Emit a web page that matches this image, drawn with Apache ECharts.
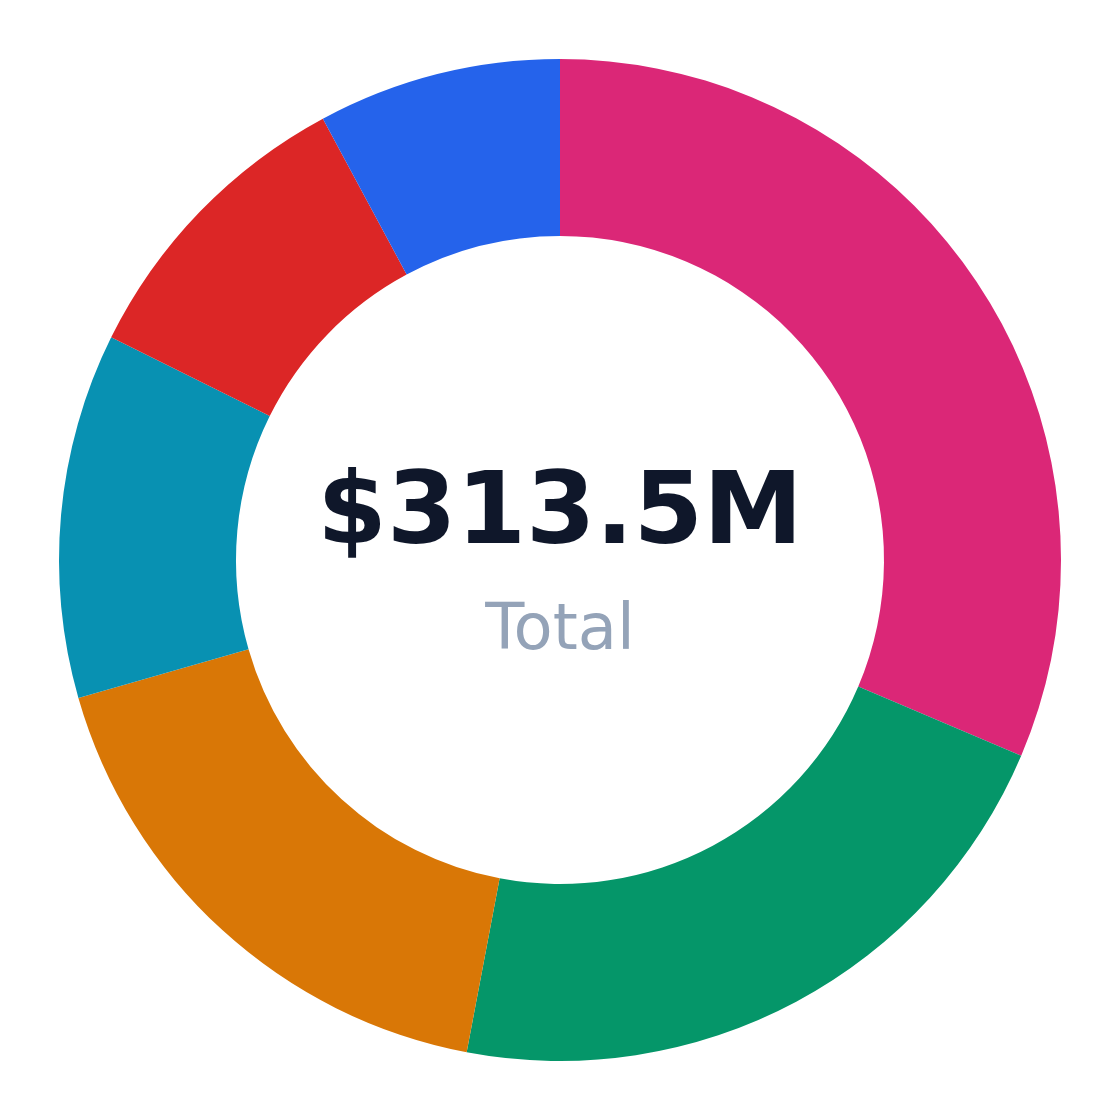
<!DOCTYPE html>
<html>
<head>
<meta charset="utf-8">
<script src="https://cdn.jsdelivr.net/npm/echarts@6/dist/echarts.min.js"></script>
<style>
  html, body { margin: 0; padding: 0; background: #fff; }
  #cht { width: 1120px; height: 1120px; }
</style>
</head>
<body>
<div id="cht"></div>
<script>
// segment values in $M, clockwise from 12 o'clock
var names = ['Segment A', 'Segment B', 'Segment C', 'Segment D', 'Segment E', 'Segment F'];
var values = [98.4, 67.7, 55.1, 36.9, 30.8, 24.6];
var colors = ['#db2777', '#059669', '#d97706', '#0891b2', '#dc2626', '#2563eb'];
var totalLabel = '$313.5M';
var subLabel = 'Total';

var pieData = names.map(function (n, i) {
    return { name: n, value: values[i], itemStyle: { color: colors[i] } };
});

var config = {
    animation: false,
    tooltip: { show: false },
    graphic: [
        {
            type: 'text',
            left: 'center',
            top: 467,
            style: {
                text: totalLabel,
                fill: '#0f172a',
                font: 'bold 100px "DejaVu Sans", sans-serif'
            }
        },
        {
            type: 'text',
            left: 'center',
            top: 600,
            style: {
                text: subLabel,
                fill: '#94a3b8',
                font: '64px "DejaVu Sans", sans-serif'
            }
        }
    ],
    series: [
        {
            type: 'pie',
            center: [560, 560],
            radius: [324, 501],
            startAngle: 90,
            clockwise: true,
            label: { show: false },
            labelLine: { show: false },
            emphasis: { disabled: true },
            data: pieData
        }
    ]
};

window.onload = function () {
    var myChart = echarts.init(document.getElementById('cht'));
    myChart.setOption(config);
};
</script>
</body>
</html>
